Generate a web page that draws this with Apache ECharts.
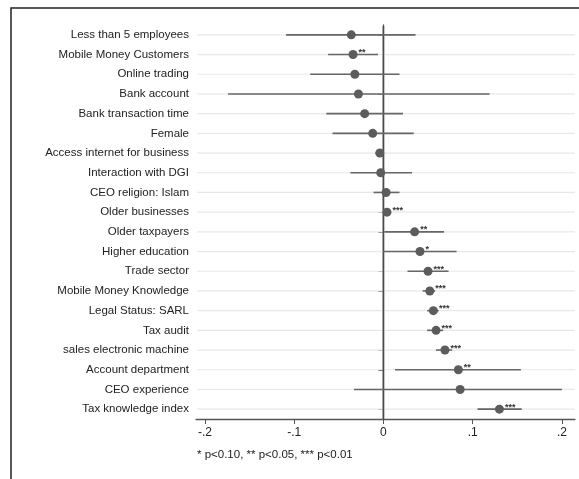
<!DOCTYPE html>
<html><head><meta charset="utf-8">
<script src="https://cdn.jsdelivr.net/npm/echarts@6/dist/echarts.min.js"></script>
<style>html,body{margin:0;padding:0;background:#fff;}#c{width:579px;height:479px;}</style>
</head><body><div id="c"></div>
<script>
const categories = ["Less than 5 employees","Mobile Money Customers","Online trading","Bank account","Bank transaction time","Female","Access internet for business","Interaction with DGI","CEO religion: Islam","Older businesses","Older taxpayers","Higher education","Trade sector","Mobile Money Knowledge","Legal Status: SARL","Tax audit","sales electronic machine","Account department","CEO experience","Tax knowledge index"];
const estimates = [-0.036,-0.034,-0.032,-0.028,-0.021,-0.012,-0.004,-0.003,0.003,0.004,0.035,0.041,0.050,0.052,0.056,0.059,0.069,0.084,0.086,0.130];
const ciLow = [-0.109,-0.062,-0.082,-0.174,-0.064,-0.057,-0.009,-0.037,-0.011,0.000,0.001,0.000,0.027,0.044,0.049,0.049,0.059,0.013,-0.033,0.1055];
const ciHigh = [0.036,-0.006,0.018,0.119,0.022,0.034,0.000,0.032,0.018,0.007,0.068,0.082,0.073,0.058,0.062,0.067,0.077,0.154,0.200,0.155];
const stars = ["","**","","","","","","","","***","**","*","***","***","***","***","***","**","","***"];
const referenceLine = [0];
const xTicks = [-0.2,-0.1,0,0.1,0.2];
const xTickLabels = ["-.2","-.1","0",".1",".2"];
const footnote = "* p<0.10, ** p<0.05, *** p<0.01";

const font = "'Liberation Sans', Arial, Helvetica, sans-serif";
const chart = echarts.init(document.getElementById('c'), null, {renderer:'canvas'});
const ciData = categories.map((c,i)=>[ciLow[i], ciHigh[i], i]);
const rowData = categories.map((c,i)=>[0, i]);
const ptData = categories.map((c,i)=>({value:[estimates[i], i], star: stars[i]}));

chart.setOption({
  animation:false,
  backgroundColor:'#fff',
  grid:{left:196, right:4, top:25, bottom:60, containLabel:false},
  xAxis:{
    type:'value', min:-0.21, max:0.2147,
    axisLine:{show:true, onZero:false, lineStyle:{color:'#555', width:1.3}},
    axisTick:{show:true, length:5, lineStyle:{color:'#555'}, customValues:xTicks},
    axisLabel:{color:'#222', fontSize:12, fontFamily:font, margin:8, customValues:xTicks,
      formatter:function(v){const k=xTicks.findIndex(t=>Math.abs(t-v)<1e-9);return k>=0?xTickLabels[k]:'';}},
    splitLine:{show:false}
  },
  yAxis:{
    type:'category', data:categories, inverse:true,
    axisLine:{show:true, lineStyle:{color:'#555', width:1.3}},
    axisTick:{show:true, alignWithLabel:true, length:5, lineStyle:{color:'#555'}},
    axisLabel:{color:'#222', fontSize:11.5, fontFamily:font, margin:7, interval:0},
    splitLine:{show:false}
  },
  graphic:[
    {type:'rect', shape:{x:11, y:8, width:800, height:800}, style:{fill:'none', stroke:'#222', lineWidth:1.5}, silent:true, z:-10},
    {type:'text', left:197, top:449, style:{text:footnote, fontSize:11.5, fontFamily:font, fill:'#222'}}
  ],
  series:[
    {
      type:'custom', data:rowData, z:1, silent:true,
      renderItem:function(params, api){
        const p = api.coord([0, api.value(1)]);
        const cs = params.coordSys;
        return {type:'line', shape:{x1:cs.x+1, y1:p[1], x2:cs.x+cs.width, y2:p[1]}, style:{stroke:'#e8e8e8', lineWidth:1.2}};
      }
    },
    {
      type:'custom', data:referenceLine.map(v=>[v, 0]), z:2, silent:true,
      renderItem:function(params, api){
        const p = api.coord([api.value(0), 0]);
        const cs = params.coordSys;
        return {type:'line', shape:{x1:p[0], y1:cs.y+1, x2:p[0], y2:cs.y+cs.height}, style:{stroke:'#4a4a4a', lineWidth:1.6}};
      }
    },
    {
      type:'custom', data:ciData, z:3, silent:true,
      encode:{x:[0,1], y:2},
      renderItem:function(params, api){
        const idx = api.value(2);
        const p1 = api.coord([api.value(0), idx]);
        const p2 = api.coord([api.value(1), idx]);
        return {type:'line', shape:{x1:p1[0], y1:p1[1], x2:p2[0], y2:p2[1]}, style:{stroke:'#666', lineWidth:1.6}};
      }
    },
    {
      type:'scatter', data:ptData, symbol:'circle', symbolSize:9, z:4,
      itemStyle:{color:'#5c5c5c', opacity:1},
      label:{show:true, position:'right', distance:1, offset:[0,-2], fontSize:9, fontWeight:'bold', color:'#333', fontFamily:font,
        formatter:function(p){return p.data.star;}}
    }
  ]
});
</script></body></html>
